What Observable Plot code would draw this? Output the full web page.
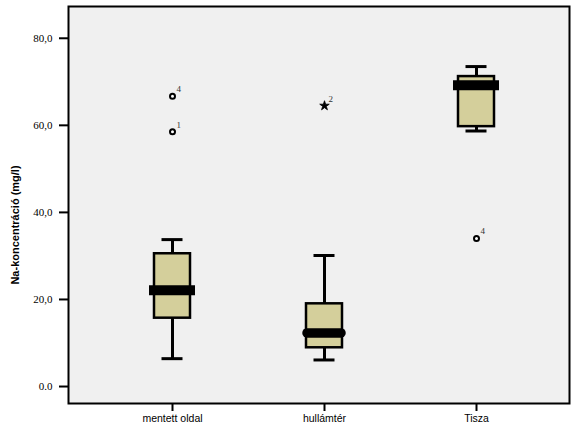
<!DOCTYPE html>
<html>
<head>
<meta charset="utf-8">
<script src="https://cdn.jsdelivr.net/npm/d3@7"></script>
<script src="https://cdn.jsdelivr.net/npm/@observablehq/plot@0.6"></script>
<style>
  html, body { margin: 0; padding: 0; background: white; }
</style>
</head>
<body>
<div id="chart"></div>
<script>
const categories = ["mentett oldal", "hullámtér", "Tisza"];
const whiskerLow = [6.4, 6.1, 58.7];
const q1 = [15.7, 8.9, 59.7];
const median = [22.1, 12.3, 69.2];
const q3 = [30.5, 19.0, 71.2];
const whiskerHigh = [33.75, 30.1, 73.5];

const outlierCategory = ["mentett oldal", "mentett oldal", "hullámtér", "Tisza"];
const outlierValue = [66.7, 58.5, 64.5, 34.0];
const outlierCase = ["4", "1", "2", "4"];
const outlierExtreme = [false, false, true, false];

const yTicks = [0, 20, 40, 60, 80];
const yTickLabels = ["0.0", "20,0", "40,0", "60,0", "80,0"];
const yTitle = "Na-koncentráció (mg/l)";

const boxes = categories.map((c, i) => ({
  cat: c, lo: whiskerLow[i], q1: q1[i], med: median[i], q3: q3[i], hi: whiskerHigh[i]
}));
const outliers = outlierCategory.map((c, i) => ({
  cat: c, v: outlierValue[i], label: outlierCase[i], extreme: outlierExtreme[i]
}));
const serif = "'Liberation Serif', 'Times New Roman', serif";

const chart = Plot.plot({
  width: 573,
  height: 428,
  marginLeft: 68,
  marginRight: 4,
  marginTop: 6,
  marginBottom: 25,
  style: { background: "white", fontFamily: "'Liberation Sans', Arial, sans-serif" },
  x: { type: "band", domain: categories, paddingInner: 0, paddingOuter: 0.1, insetLeft: 11, insetRight: 1, label: null },
  y: { domain: [-3.9, 87.3], label: null },
  marks: [
    Plot.frame({ fill: "#f0f0f0" }),
    Plot.axisY({ ticks: yTicks, tickSize: 9, strokeWidth: 2, tickFormat: () => "", label: null }),
    Plot.text(yTicks, {
      y: d => d, text: (d, i) => yTickLabels[i], frameAnchor: "left", dx: -16,
      textAnchor: "end", fontFamily: serif, fontSize: 11, fill: "black"
    }),
    Plot.axisX({ tickSize: 8, tickPadding: 3, strokeWidth: 2, fontSize: 10.5, label: null }),
    Plot.ruleX(boxes, { x: "cat", y1: "lo", y2: "q1", strokeWidth: 3 }),
    Plot.ruleX(boxes, { x: "cat", y1: "q3", y2: "hi", strokeWidth: 3 }),
    Plot.tickY(boxes, { x: "cat", y: "lo", strokeWidth: 3, insetLeft: 65.5, insetRight: 65.5 }),
    Plot.tickY(boxes, { x: "cat", y: "hi", strokeWidth: 3, insetLeft: 65.5, insetRight: 65.5 }),
    Plot.barY(boxes, { x: "cat", y1: "q1", y2: "q3", fill: "#d4cf9b", stroke: "black", strokeWidth: 2.5, insetLeft: 58, insetRight: 58 }),
    Plot.tickY(boxes.filter(d => d.cat !== "hullámtér"), { x: "cat", y: "med", strokeWidth: 10, insetLeft: 53, insetRight: 53 }),
    Plot.tickY(boxes.filter(d => d.cat === "hullámtér"), { x: "cat", y: "med", strokeWidth: 9.5, strokeLinecap: "round", insetLeft: 59, insetRight: 59 }),
    Plot.dot(outliers.filter(d => !d.extreme), { x: "cat", y: "v", r: 2.5, stroke: "black", strokeWidth: 2, fill: "white" }),
    Plot.dot(outliers.filter(d => d.extreme), { x: "cat", y: "v", r: 3, symbol: "star", fill: "black", stroke: "black", strokeWidth: 0.8 }),
    Plot.text(outliers, {
      x: "cat", y: "v", text: "label", dx: 4, dy: -7, textAnchor: "start",
      fontFamily: serif, fontSize: 9, fill: "#333"
    }),
    Plot.text([yTitle], {
      text: d => d, frameAnchor: "left", textAnchor: "middle", dx: -53, dy: 20, rotate: -90,
      fontWeight: "bold", fontSize: 11, fill: "black"
    }),
    Plot.frame({ stroke: "black", strokeWidth: 2 })
  ]
});
document.getElementById("chart").appendChild(chart);
</script>
</body>
</html>
